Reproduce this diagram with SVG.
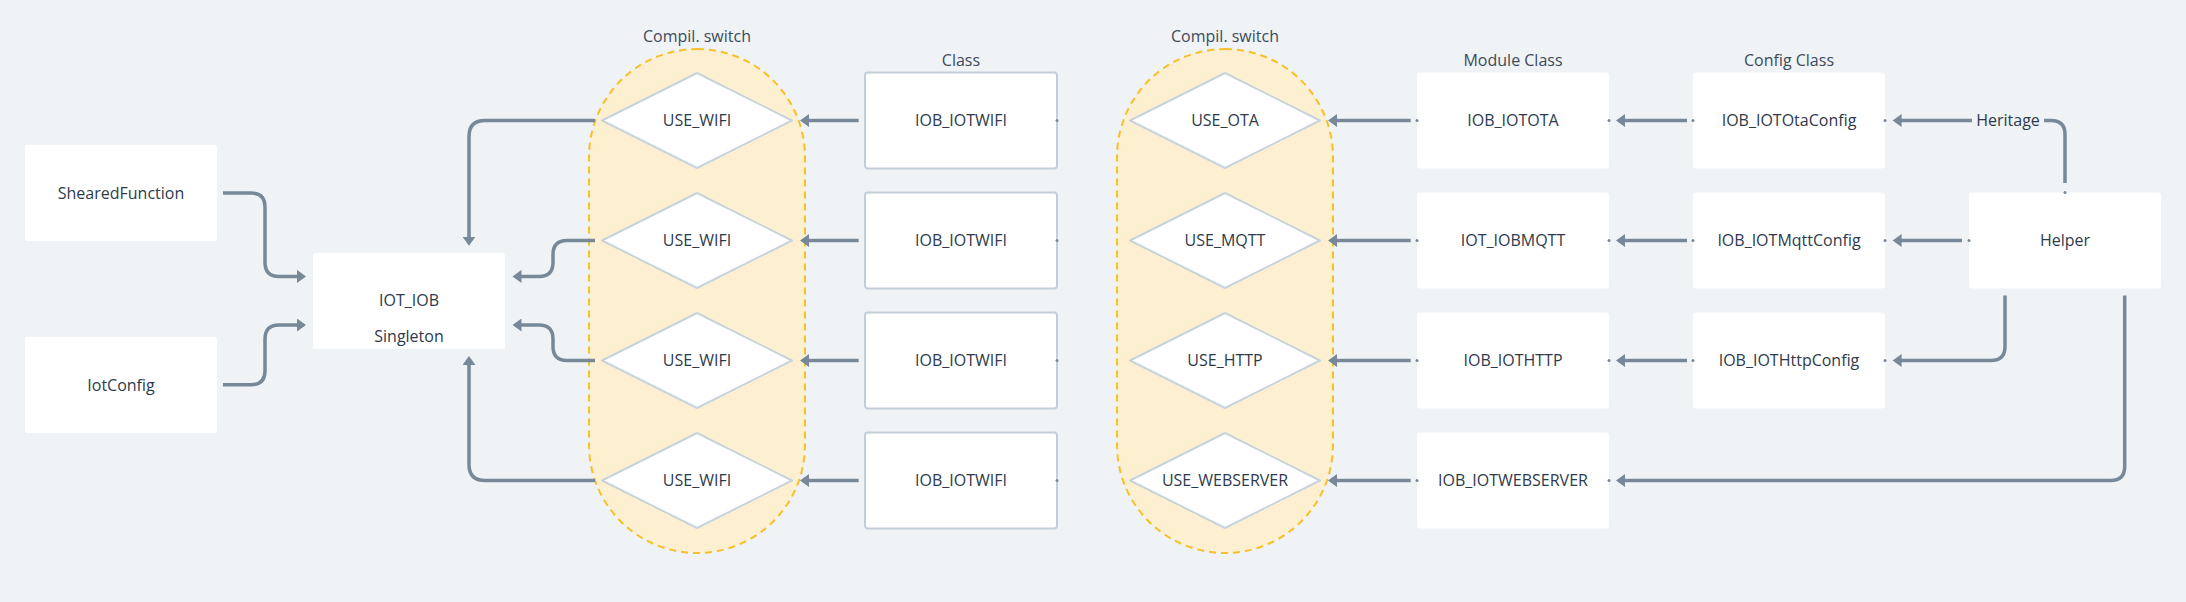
<svg xmlns="http://www.w3.org/2000/svg" width="2186" height="602" viewBox="0 0 2186 602">
<style>
text{font-family:"Open Sans","Noto Sans","Liberation Sans",sans-serif;font-size:16px;fill:#2e3a4b;text-anchor:middle}
.lbl{fill:#3e4a5a}
.box{fill:#ffffff}
.cls{fill:#ffffff;stroke:#c3ced9;stroke-width:2}
.dia{fill:#ffffff;stroke:#c9d3de;stroke-width:2;stroke-linejoin:round}
.loz{fill:#fcf0d1;stroke:#f7bf2a;stroke-width:2;stroke-dasharray:7 5}
.c{fill:none;stroke:#778899;stroke-width:3.5;stroke-linejoin:round}
.dot{fill:#778899}
</style>
<defs>
<marker id="ah" markerUnits="userSpaceOnUse" markerWidth="10" markerHeight="13" viewBox="0 0 10 13" refX="3" refY="6.5" orient="auto">
<path d="M0,0 L9,6.5 L0,13 z" fill="#778899"/>
</marker>
</defs>
<rect width="2186" height="602" fill="#eff3f6"/>

<g id="groups">
<rect class="loz" x="589" y="49" width="216" height="504" rx="108"/>
<text class="lbl" x="697" y="42">Compil. switch</text>
<rect class="loz" x="1117" y="49" width="216" height="504" rx="108"/>
<text class="lbl" x="1225" y="42">Compil. switch</text>
<text class="lbl" x="961" y="66">Class</text>
<text class="lbl" x="1513" y="66">Module Class</text>
<text class="lbl" x="1789" y="66">Config Class</text>
</g>

<g id="connectors">
<path class="c" marker-end="url(#ah)" d="M223,193 H251 Q265,193 265,207 V262.4 Q265,276.4 279,276.4 H300"/>
<path class="c" marker-end="url(#ah)" d="M223,384.7 H251 Q265,384.7 265,370.7 V339 Q265,325 279,325 H300"/>
<path class="c" marker-end="url(#ah)" d="M595,120.5 H485 Q469,120.5 469,136.5 V239.7"/>
<path class="c" marker-end="url(#ah)" d="M595,240.5 H567 Q553,240.5 553,254.5 V262.4 Q553,276.4 539,276.4 H518.5"/>
<path class="c" marker-end="url(#ah)" d="M595,360.5 H567 Q553,360.5 553,346.5 V339 Q553,325 539,325 H518.5"/>
<path class="c" marker-end="url(#ah)" d="M595,480.5 H485 Q469,480.5 469,464.5 V362"/>
<path class="c" marker-end="url(#ah)" d="M858.6,120.5 H806"/>
<path class="c" marker-end="url(#ah)" d="M858.6,240.5 H806"/>
<path class="c" marker-end="url(#ah)" d="M858.6,360.5 H806"/>
<path class="c" marker-end="url(#ah)" d="M858.6,480.5 H806"/>
<path class="c" marker-end="url(#ah)" d="M1410.7,120.5 H1334"/>
<path class="c" marker-end="url(#ah)" d="M1410.7,240.5 H1334"/>
<path class="c" marker-end="url(#ah)" d="M1410.7,360.5 H1334"/>
<path class="c" marker-end="url(#ah)" d="M1410.7,480.5 H1334"/>
<path class="c" marker-end="url(#ah)" d="M1687,120.5 H1622"/>
<path class="c" marker-end="url(#ah)" d="M1687,240.5 H1622"/>
<path class="c" marker-end="url(#ah)" d="M1687,360.5 H1622"/>
<path class="c" marker-end="url(#ah)" d="M2065,183 V134.5 Q2065,120.5 2051,120.5 H1898.6"/>
<rect x="1972" y="110" width="72" height="22" fill="#eff3f6"/>
<text x="2008" y="126">Heritage</text>
<path class="c" marker-end="url(#ah)" d="M1962,240.5 H1898.6"/>
<path class="c" marker-end="url(#ah)" d="M2005,295.6 V346.5 Q2005,360.5 1991,360.5 H1898.6"/>
<path class="c" marker-end="url(#ah)" d="M2124.7,295.6 V466.5 Q2124.7,480.5 2110.7,480.5 H1622"/>
</g>

<g id="n-shearedfunction"><rect class="box" x="25" y="145" width="192" height="96" rx="3"/><text x="121" y="199">ShearedFunction</text></g>
<g id="n-iotconfig"><rect class="box" x="25" y="337" width="192" height="96" rx="3"/><text x="121" y="391">IotConfig</text></g>
<g id="n-iot-iob"><rect class="box" x="313" y="253" width="192" height="96" rx="3"/><text x="409" y="306">IOT_IOB</text><text x="409" y="342">Singleton</text></g>

<g id="n-sw-wifi1"><polygon class="dia" points="602,120.5 697,73 792,120.5 697,168"/><text x="697" y="126">USE_WIFI</text></g>
<g id="n-sw-wifi2"><polygon class="dia" points="602,240.5 697,193 792,240.5 697,288"/><text x="697" y="246">USE_WIFI</text></g>
<g id="n-sw-wifi3"><polygon class="dia" points="602,360.5 697,313 792,360.5 697,408"/><text x="697" y="366">USE_WIFI</text></g>
<g id="n-sw-wifi4"><polygon class="dia" points="602,480.5 697,433 792,480.5 697,528"/><text x="697" y="486">USE_WIFI</text></g>

<g id="n-wifi1"><rect class="cls" x="865" y="72.5" width="192" height="96" rx="3"/><text x="961" y="126">IOB_IOTWIFI</text></g>
<g id="n-wifi2"><rect class="cls" x="865" y="192.5" width="192" height="96" rx="3"/><text x="961" y="246">IOB_IOTWIFI</text></g>
<g id="n-wifi3"><rect class="cls" x="865" y="312.5" width="192" height="96" rx="3"/><text x="961" y="366">IOB_IOTWIFI</text></g>
<g id="n-wifi4"><rect class="cls" x="865" y="432.5" width="192" height="96" rx="3"/><text x="961" y="486">IOB_IOTWIFI</text></g>

<g id="n-sw-ota"><polygon class="dia" points="1130,120.5 1225,73 1320,120.5 1225,168"/><text x="1225" y="126">USE_OTA</text></g>
<g id="n-sw-mqtt"><polygon class="dia" points="1130,240.5 1225,193 1320,240.5 1225,288"/><text x="1225" y="246">USE_MQTT</text></g>
<g id="n-sw-http"><polygon class="dia" points="1130,360.5 1225,313 1320,360.5 1225,408"/><text x="1225" y="366">USE_HTTP</text></g>
<g id="n-sw-web"><polygon class="dia" points="1130,480.5 1225,433 1320,480.5 1225,528"/><text x="1225" y="486">USE_WEBSERVER</text></g>

<g id="n-ota"><rect class="box" x="1417" y="72.5" width="192" height="96" rx="3"/><text x="1513" y="126">IOB_IOTOTA</text></g>
<g id="n-mqtt"><rect class="box" x="1417" y="192.5" width="192" height="96" rx="3"/><text x="1513" y="246">IOT_IOBMQTT</text></g>
<g id="n-http"><rect class="box" x="1417" y="312.5" width="192" height="96" rx="3"/><text x="1513" y="366">IOB_IOTHTTP</text></g>
<g id="n-web"><rect class="box" x="1417" y="432.5" width="192" height="96" rx="3"/><text x="1513" y="486">IOB_IOTWEBSERVER</text></g>

<g id="n-otacfg"><rect class="box" x="1693" y="72.5" width="192" height="96" rx="3"/><text x="1789" y="126">IOB_IOTOtaConfig</text></g>
<g id="n-mqttcfg"><rect class="box" x="1693" y="192.5" width="192" height="96" rx="3"/><text x="1789" y="246">IOB_IOTMqttConfig</text></g>
<g id="n-httpcfg"><rect class="box" x="1693" y="312.5" width="192" height="96" rx="3"/><text x="1789" y="366">IOB_IOTHttpConfig</text></g>

<g id="n-helper"><rect class="box" x="1969" y="192.5" width="192" height="96" rx="3"/><text x="2065" y="246">Helper</text></g>

<g id="ports">
<circle class="dot" cx="1057" cy="120.5" r="1.5"/><circle class="dot" cx="1057" cy="240.5" r="1.5"/><circle class="dot" cx="1057" cy="360.5" r="1.5"/><circle class="dot" cx="1057" cy="480.5" r="1.5"/>
<circle class="dot" cx="1417" cy="120.5" r="1.5"/><circle class="dot" cx="1417" cy="240.5" r="1.5"/><circle class="dot" cx="1417" cy="360.5" r="1.5"/><circle class="dot" cx="1417" cy="480.5" r="1.5"/>
<circle class="dot" cx="1609" cy="120.5" r="1.5"/><circle class="dot" cx="1609" cy="240.5" r="1.5"/><circle class="dot" cx="1609" cy="360.5" r="1.5"/><circle class="dot" cx="1609" cy="480.5" r="1.5"/>
<circle class="dot" cx="1693" cy="120.5" r="1.5"/><circle class="dot" cx="1693" cy="240.5" r="1.5"/><circle class="dot" cx="1693" cy="360.5" r="1.5"/>
<circle class="dot" cx="1885" cy="120.5" r="1.5"/><circle class="dot" cx="1885" cy="240.5" r="1.5"/><circle class="dot" cx="1885" cy="360.5" r="1.5"/>
<circle class="dot" cx="1969" cy="240.5" r="1.5"/><circle class="dot" cx="2065" cy="192.5" r="1.5"/>
</g>
</svg>
